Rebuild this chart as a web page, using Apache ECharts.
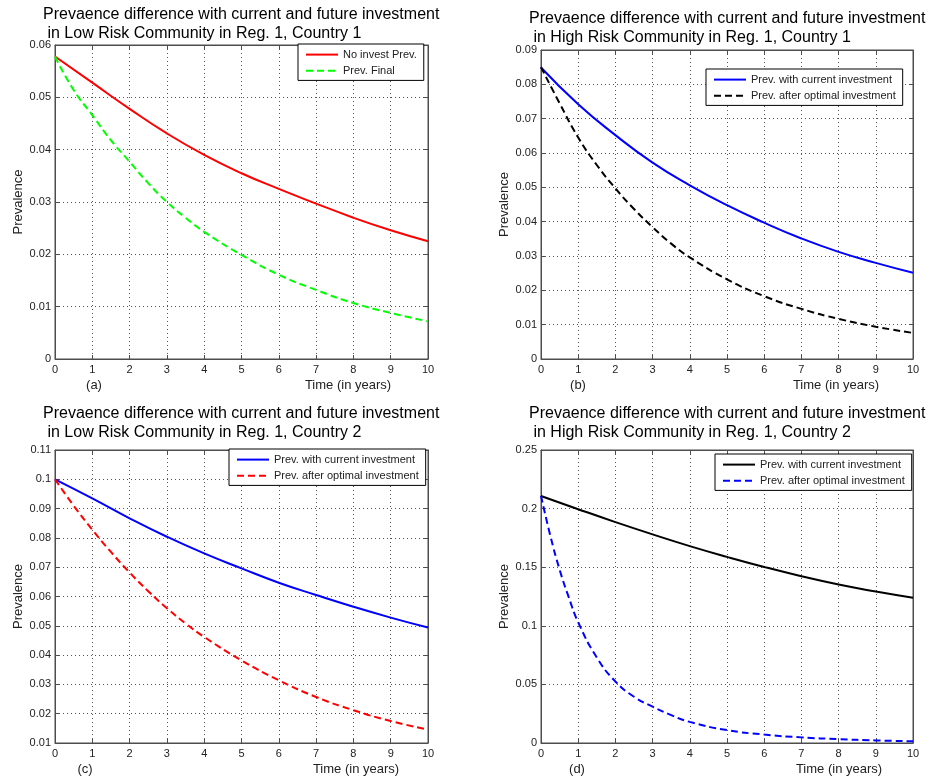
<!DOCTYPE html>
<html>
<head>
<meta charset="utf-8">
<script src="https://cdn.jsdelivr.net/npm/echarts@6/dist/echarts.min.js"></script>
<style>
html,body{margin:0;padding:0;background:#fff;}
#chart{width:933px;height:781px;}
</style>
</head>
<body>
<div id="chart"></div>
<script>
// ---- data ----
const yearsInt = [0, 1, 2, 3, 4, 5, 6, 7, 8, 9, 10];
const yearsFine = [0, 0.5, 1, 1.5, 2, 2.5, 3, 3.5, 4, 5, 6, 7, 8, 9, 10];
const yearsD = [0, 0.25, 0.5, 0.75, 1, 1.5, 2, 2.5, 3, 3.5, 4, 5, 6, 7, 8, 9, 10];
const xTicks = [0, 1, 2, 3, 4, 5, 6, 7, 8, 9, 10];

// (a) Low risk, country 1
const noInvestA = [0.0578, 0.0528, 0.0478, 0.0431, 0.0390, 0.0355, 0.0325, 0.0297, 0.0270, 0.0246, 0.0225];
const prevFinalA = [0.0578, 0.0514, 0.0466, 0.0418, 0.0377, 0.0336, 0.0300, 0.0270, 0.0243, 0.0199, 0.0161, 0.0132, 0.0107, 0.0088, 0.0072];
// (b) High risk, country 1
const currentB = [0.0849, 0.0742, 0.0652, 0.0572, 0.0506, 0.0448, 0.0397, 0.0351, 0.0312, 0.0280, 0.0251];
const optimalB = [0.0850, 0.0745, 0.0645, 0.0565, 0.0497, 0.0437, 0.0384, 0.0336, 0.0296, 0.0232, 0.0183, 0.0146, 0.0117, 0.0094, 0.0076];
// (c) Low risk, country 2
const currentC = [0.1000, 0.0935, 0.0867, 0.0804, 0.0747, 0.0696, 0.0647, 0.0605, 0.0565, 0.0528, 0.0494];
const optimalC = [0.1000, 0.0910, 0.0828, 0.0752, 0.0682, 0.0618, 0.0560, 0.0508, 0.0462, 0.0382, 0.0314, 0.0257, 0.0212, 0.0175, 0.0146];
// (d) High risk, country 2
const currentD = [0.2108, 0.1995, 0.1885, 0.1780, 0.1680, 0.1588, 0.1502, 0.1423, 0.1352, 0.1293, 0.1240];
const optimalD = [0.2110, 0.1770, 0.1480, 0.1240, 0.1030, 0.0730, 0.0525, 0.0395, 0.0310, 0.0238, 0.0180, 0.0110, 0.0072, 0.0048, 0.0033, 0.0022, 0.0015];

const titlesL1 = 'Prevaence difference with current and future investment';
const titlesL2 = [
  ' in Low Risk Community in Reg. 1, Country 1',
  ' in High Risk Community in Reg. 1, Country 1',
  ' in Low Risk Community in Reg. 1, Country 2',
  ' in High Risk Community in Reg. 1, Country 2'
];
const panelTags = ['(a)', '(b)', '(c)', '(d)'];
const xName = 'Time (in years)';
const yName = 'Prevalence';

// ---- layout / styles ----
const FONT = '"Liberation Sans", Arial, Helvetica, sans-serif';
const panels = [
  { grid: {left: 55, top: 45, width: 373, height: 314}, yMin: 0, yMax: 0.06, yStep: 0.01,
    titlePos: {left: 43, top: 5}, legendPos: {left: 298, top: 44},
    xNamePos: [348, 385], tagPos: [94, 385],
    series: [
      {name: 'No invest Prev.', t: yearsInt, v: noInvestA, color: '#ff0000', dash: false},
      {name: 'Prev. Final', t: yearsFine, v: prevFinalA, color: '#00ff00', dash: true}
    ]},
  { grid: {left: 541, top: 50, width: 372, height: 309}, yMin: 0, yMax: 0.09, yStep: 0.01,
    titlePos: {left: 529, top: 9}, legendPos: {left: 706, top: 69},
    xNamePos: [836, 385], tagPos: [578, 385],
    series: [
      {name: 'Prev. with current investment', t: yearsInt, v: currentB, color: '#0000ff', dash: false},
      {name: 'Prev. after optimal investment', t: yearsFine, v: optimalB, color: '#000000', dash: true}
    ]},
  { grid: {left: 55, top: 450, width: 373, height: 293}, yMin: 0.01, yMax: 0.11, yStep: 0.01,
    titlePos: {left: 43, top: 404}, legendPos: {left: 229, top: 449},
    xNamePos: [356, 769], tagPos: [85, 769],
    series: [
      {name: 'Prev. with current investment ', t: yearsInt, v: currentC, color: '#0000ff', dash: false},
      {name: 'Prev. after optimal investment ', t: yearsFine, v: optimalC, color: '#ff0000', dash: true}
    ]},
  { grid: {left: 541, top: 450, width: 372, height: 293}, yMin: 0, yMax: 0.25, yStep: 0.05,
    titlePos: {left: 529, top: 404}, legendPos: {left: 715, top: 454},
    xNamePos: [839, 769], tagPos: [577, 769],
    series: [
      {name: 'Prev. with current investment  ', t: yearsInt, v: currentD, color: '#000000', dash: false},
      {name: 'Prev. after optimal investment  ', t: yearsD, v: optimalD, color: '#0000ff', dash: true}
    ]}
];

const axisColor = '#4d4d4d';
const option = {
  backgroundColor: '#fff',
  animation: false,
  title: [], grid: [], xAxis: [], yAxis: [], legend: [], series: [], graphic: []
};

panels.forEach((p, i) => {
  option.title.push({
    text: titlesL1 + '\n' + titlesL2[i],
    left: p.titlePos.left, top: p.titlePos.top, padding: 0,
    textStyle: {fontSize: 16, fontWeight: 'normal', color: '#000', fontFamily: FONT, lineHeight: 19}
  });
  option.grid.push(Object.assign({show: true, borderColor: axisColor, borderWidth: 1, backgroundColor: '#fff', containLabel: false}, p.grid));
  const xBase = {
    type: 'value', gridIndex: i, min: xTicks[0], max: xTicks[xTicks.length - 1], interval: 1,
    axisLine: {show: true, onZero: false, lineStyle: {color: axisColor, width: 1}},
    axisTick: {show: true, inside: true, length: 4, lineStyle: {color: axisColor}}
  };
  option.xAxis.push(Object.assign({}, xBase, {
    position: 'bottom',
    axisLabel: {show: true, margin: 5, fontSize: 11, color: '#222', fontFamily: FONT},
    splitLine: {show: true, lineStyle: {color: '#555', width: 1, type: [1, 3]}}
  }));
  option.xAxis.push(Object.assign({}, xBase, {
    position: 'top', axisLabel: {show: false}, splitLine: {show: false}
  }));
  const yBase = {
    type: 'value', gridIndex: i, min: p.yMin, max: p.yMax, interval: p.yStep,
    axisLine: {show: true, onZero: false, lineStyle: {color: axisColor, width: 1}},
    axisTick: {show: true, inside: true, length: 4, lineStyle: {color: axisColor}}
  };
  option.yAxis.push(Object.assign({}, yBase, {
    position: 'left',
    name: yName, nameLocation: 'middle', nameGap: 30,
    nameTextStyle: {fontSize: 13, color: '#222', fontFamily: FONT},
    axisLabel: {show: true, margin: 4, fontSize: 11, color: '#222', fontFamily: FONT,
      formatter: v => String(+v.toFixed(4))},
    splitLine: {show: true, lineStyle: {color: '#555', width: 1, type: [1, 3]}}
  }));
  option.yAxis.push(Object.assign({}, yBase, {
    position: 'right', axisLabel: {show: false}, splitLine: {show: false}
  }));
  option.legend.push({
    left: p.legendPos.left, top: p.legendPos.top, orient: 'vertical',
    data: p.series.map(s => s.name),
    formatter: n => n.trim(),
    selectedMode: false,
    backgroundColor: '#fff', borderColor: '#000', borderWidth: 1, borderRadius: 0,
    padding: [5, 7, 4, 7], itemGap: 5, itemWidth: 32, itemHeight: 14,
    itemStyle: {opacity: 0, borderWidth: 0},
    textStyle: {fontSize: 11, color: '#222', fontFamily: FONT}
  });
  p.series.forEach(s => {
    option.series.push({
      type: 'line', name: s.name,
      xAxisIndex: i * 2, yAxisIndex: i * 2,
      data: s.t.map((t, k) => [t, s.v[k]]),
      smooth: 0.5,
      symbol: 'none', showSymbol: false,
      lineStyle: {color: s.color, width: 2, type: s.dash ? [7, 4] : 'solid'},
      itemStyle: {color: s.color},
      z: 5
    });
  });
  option.graphic.push({
    type: 'text', silent: true,
    style: {text: xName, x: p.xNamePos[0], y: p.xNamePos[1], align: 'center', verticalAlign: 'middle',
      fontSize: 13, fontFamily: FONT, fill: '#222'}
  });
  option.graphic.push({
    type: 'text', silent: true,
    style: {text: panelTags[i], x: p.tagPos[0], y: p.tagPos[1], align: 'center', verticalAlign: 'middle',
      fontSize: 13, fontFamily: FONT, fill: '#222'}
  });
});

const chart = echarts.init(document.getElementById('chart'), null, {renderer: 'canvas'});
chart.setOption(option);
</script>
</body>
</html>
